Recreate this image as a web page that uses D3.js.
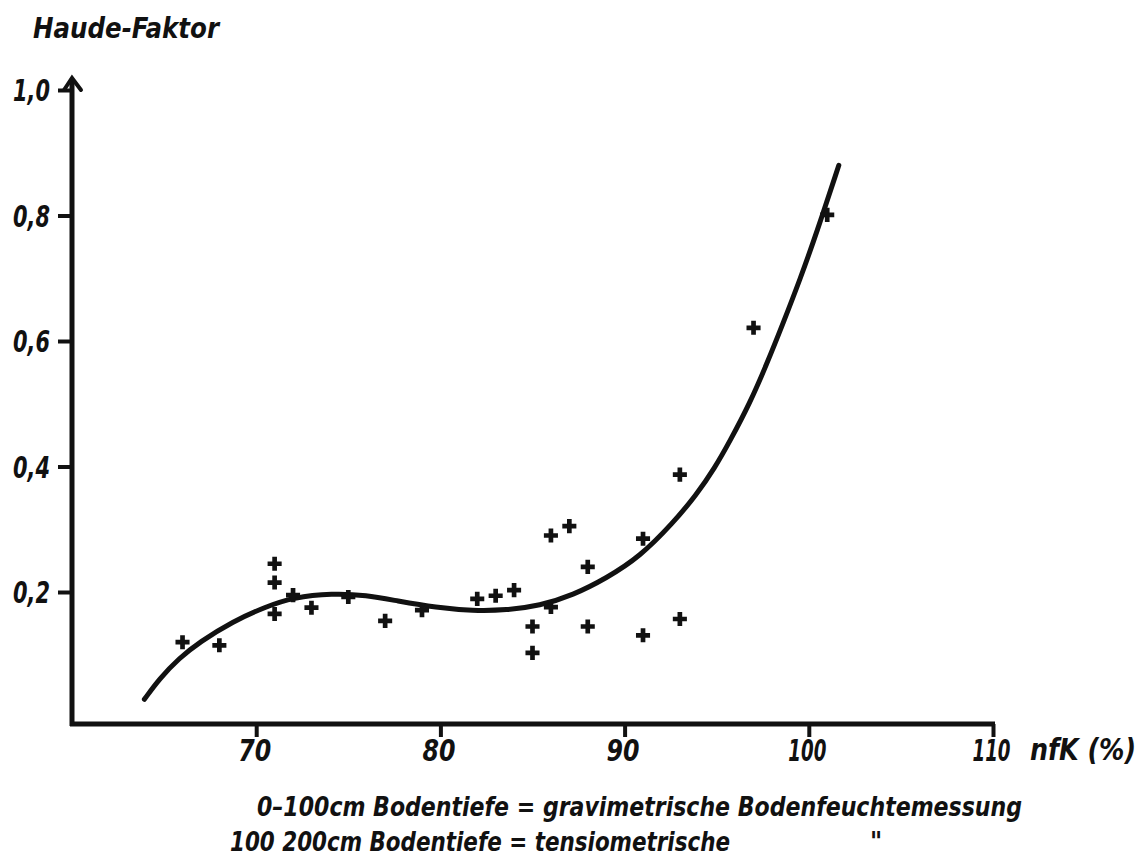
<!DOCTYPE html>
<html>
<head>
<meta charset="utf-8">
<script src="https://cdn.jsdelivr.net/npm/d3@7"></script>
<style>
  body { margin: 0; background: #fff; }
  svg { display: block; }
  text {
    font-family: "Liberation Sans Narrow", "DejaVu Sans Condensed", sans-serif;
    font-weight: bold;
    font-style: italic;
    fill: #111;
  }
</style>
</head>
<body>
<svg id="chart" width="1144" height="858"></svg>
<script>
// Measured points: plant-available soil water (nfK, %) against Haude factor
const nfK   = [66, 68, 71, 71, 71, 72, 73, 75, 77, 79, 82, 83, 84, 85, 85, 86, 86, 87, 88, 88, 91, 91, 93, 93, 97, 101];
const haude = [0.12, 0.115, 0.245, 0.215, 0.165, 0.195, 0.175, 0.192, 0.154, 0.171, 0.189, 0.194, 0.203,
               0.145, 0.103, 0.29, 0.176, 0.305, 0.24, 0.145, 0.285, 0.131, 0.157, 0.387, 0.621, 0.801];

// Fitted regression curve, sampled along its length
const curveNfK   = [63.93, 64.75, 65.83, 66.92, 68.71, 70.56, 71.97, 74.14, 75.99, 77.62, 79.78, 81.77, 83.58,
                    85.39, 87.2, 89.01, 90.82, 92.63, 93.9, 94.9, 95.71, 96.8, 97.7, 98.6, 99.51, 100.42, 101.63];
const curveHaude = [0.029, 0.062, 0.095, 0.12, 0.153, 0.177, 0.191, 0.198, 0.195, 0.186, 0.175, 0.17, 0.171,
                    0.178, 0.195, 0.222, 0.256, 0.31, 0.355, 0.398, 0.44, 0.501, 0.562, 0.628, 0.697, 0.772, 0.88];

// Axis ticks and labels
const xTicks = [70, 80, 90, 100, 110];
const yTicks = [0.2, 0.4, 0.6, 0.8, 1.0];
const yTitle = "Haude-Faktor";
const xTitle = "nfK (%)";
const note1 = "0–100cm Bodentiefe = gravimetrische Bodenfeuchtemessung";
const note2 = "100 200cm Bodentiefe = tensiometrische";
const ditto = "\"";

const ink = "#111";
const svg = d3.select("#chart");

const x = d3.scaleLinear().domain([60, 110]).range([72, 993]);
const y = d3.scaleLinear().domain([0, 1]).range([717.5, 90]);
const baseY = y(0) + 6.5;   // the x axis is drawn just below zero
const comma = v => d3.format(".1f")(v).replace(".", ",");

// ---- x axis ----
const gx = svg.append("g")
  .attr("transform", `translate(0,${baseY})`)
  .call(d3.axisBottom(x).tickValues(xTicks).tickSize(13).tickSizeOuter(0).tickPadding(3).tickFormat(d3.format("d")));
gx.select(".domain").remove();
gx.selectAll(".tick line").attr("stroke", ink).attr("stroke-width", 4);
gx.selectAll(".tick text")
  .attr("font-size", 30)
  .attr("dx", -2)
  .attr("textLength", d => d >= 100 ? 38 : 33)
  .attr("lengthAdjust", "spacingAndGlyphs");

svg.append("line")
  .attr("x1", x(60) - 2).attr("x2", x(110) + 2)
  .attr("y1", baseY).attr("y2", baseY)
  .attr("stroke", ink).attr("stroke-width", 5);

// ---- y axis ----
const gy = svg.append("g")
  .attr("transform", `translate(${x(60)},0)`)
  .call(d3.axisLeft(y).tickValues(yTicks).tickSize(14).tickPadding(8).tickFormat(comma));
gy.select(".domain").remove();
gy.selectAll(".tick line").attr("stroke", ink).attr("stroke-width", 4);
gy.selectAll(".tick text")
  .attr("font-size", 30)
  .attr("dy", "0.36em")
  .attr("textLength", 37)
  .attr("lengthAdjust", "spacingAndGlyphs");

svg.append("line")
  .attr("x1", x(60)).attr("x2", x(60))
  .attr("y1", baseY + 2).attr("y2", y(1) - 11)
  .attr("stroke", ink).attr("stroke-width", 5);

// arrow head at the top of the y axis
const tipY = y(1) - 12;
svg.append("path")
  .attr("d", `M${x(60) - 8},${tipY + 12} L${x(60)},${tipY} L${x(60) + 9},${tipY + 12}`)
  .attr("fill", "none").attr("stroke", ink).attr("stroke-width", 4)
  .attr("stroke-linejoin", "miter").attr("stroke-linecap", "round");

// ---- regression curve ----
const curvePts = curveNfK.map((v, i) => [v, curveHaude[i]]);
svg.append("path")
  .datum(curvePts)
  .attr("d", d3.line().x(d => x(d[0])).y(d => y(d[1])).curve(d3.curveBasis))
  .attr("fill", "none")
  .attr("stroke", ink)
  .attr("stroke-width", 5)
  .attr("stroke-linecap", "round");

// ---- measured points ----
const pts = nfK.map((v, i) => [v, haude[i]]);
svg.append("g").selectAll("path")
  .data(pts)
  .join("path")
  .attr("transform", d => `translate(${x(d[0])},${y(d[1])})`)
  .attr("d", d3.symbol(d3.symbolCross, 110))
  .attr("fill", ink);

// ---- titles and notes ----
svg.append("text").attr("x", 33).attr("y", 38).attr("font-size", 29)
  .attr("textLength", 186).attr("lengthAdjust", "spacingAndGlyphs").text(yTitle);

svg.append("text").attr("x", 1030).attr("y", baseY + 36).attr("font-size", 30)
  .attr("textLength", 106).attr("lengthAdjust", "spacingAndGlyphs").text(xTitle);

svg.append("text").attr("x", 257).attr("y", 816).attr("font-size", 26)
  .attr("textLength", 765).attr("lengthAdjust", "spacingAndGlyphs").text(note1);

svg.append("text").attr("x", 230).attr("y", 851).attr("font-size", 26)
  .attr("textLength", 500).attr("lengthAdjust", "spacingAndGlyphs").text(note2);

svg.append("text").attr("x", 870).attr("y", 851).attr("font-size", 26).text(ditto);
</script>
</body>
</html>
